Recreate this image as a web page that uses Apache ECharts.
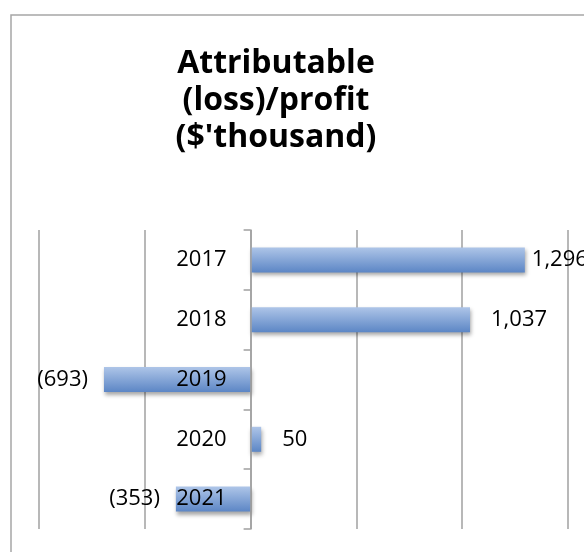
<!DOCTYPE html>
<html><head><meta charset="utf-8">
<script src="https://cdn.jsdelivr.net/npm/echarts@6/dist/echarts.min.js"></script>
<style>html,body{margin:0;padding:0;background:#fff;overflow:hidden}#c{width:584px;height:552px}</style>
</head><body><div id="c"></div>
<script>
const titleText = "Attributable\n(loss)/profit\n($'thousand)";
const years = ['2017', '2018', '2019', '2020', '2021'];
const values = [1296, 1037, -693, 50, -353];
const axisMin = -1000, axisMax = 1500, axisStep = 500;

const FONT = 'Open Sans';
function fmt(v) {
  const s = Math.abs(v).toLocaleString('en-US');
  return v < 0 ? '(' + s + ')' : s;
}
const chart = echarts.init(document.getElementById('c'), null, {renderer: 'canvas'});
const gridLeft = 39, gridRight = 16;
const plotW = 584 - gridLeft - gridRight;
const zeroOffset = plotW * (0 - axisMin) / (axisMax - axisMin);
chart.setOption({
  animation: false,
  backgroundColor: '#fff',
  graphic: [{
    type: 'polyline', shape: {points: [[11, 560], [11, 15], [590, 15]]},
    style: {fill: 'none', stroke: '#a6a6a6', lineWidth: 1.5}, silent: true, z: -1
  }],
  title: {
    text: titleText, left: 271, top: 40, textAlign: 'center',
    textStyle: {fontFamily: FONT, fontWeight: 'bold', fontSize: 32, lineHeight: 37, color: '#000'}
  },
  grid: {left: gridLeft, right: gridRight, top: 230, bottom: 23, containLabel: false, outerBoundsMode: 'none'},
  xAxis: {
    type: 'value', min: axisMin, max: axisMax, interval: axisStep,
    axisLabel: {show: false}, axisTick: {show: false}, axisLine: {show: false},
    splitLine: {show: true, lineStyle: {color: '#a0a0a0', width: 1.5}}
  },
  yAxis: {
    type: 'category', data: years, inverse: true, offset: -zeroOffset, z: 5,
    axisLine: {onZero: false, lineStyle: {color: '#a0a0a0', width: 1.5}},
    axisTick: {show: true, length: 7, alignWithLabel: false, lineStyle: {color: '#a0a0a0', width: 1.5}},
    axisLabel: {margin: 24, fontFamily: FONT, fontSize: 22, color: '#000'}
  },
  series: [{
    type: 'bar', barWidth: 25, z: 2,
    data: values.map((v, i) => ({
      value: v,
      label: {
        show: true,
        position: v < 0 ? 'left' : 'right',
        distance: i === 0 ? 7 : (v < 0 ? 16 : 21)
      }
    })),
    label: {fontFamily: FONT, fontSize: 22, color: '#000', formatter: p => fmt(p.value)},
    itemStyle: {
      color: new echarts.graphic.LinearGradient(0, 0, 0, 1, [
        {offset: 0, color: '#aec5e8'}, {offset: 1, color: '#5c86c5'}
      ]),
      shadowColor: 'rgba(0,0,0,0.35)', shadowBlur: 4, shadowOffsetX: 1, shadowOffsetY: 3
    }
  }]
});
</script></body></html>
